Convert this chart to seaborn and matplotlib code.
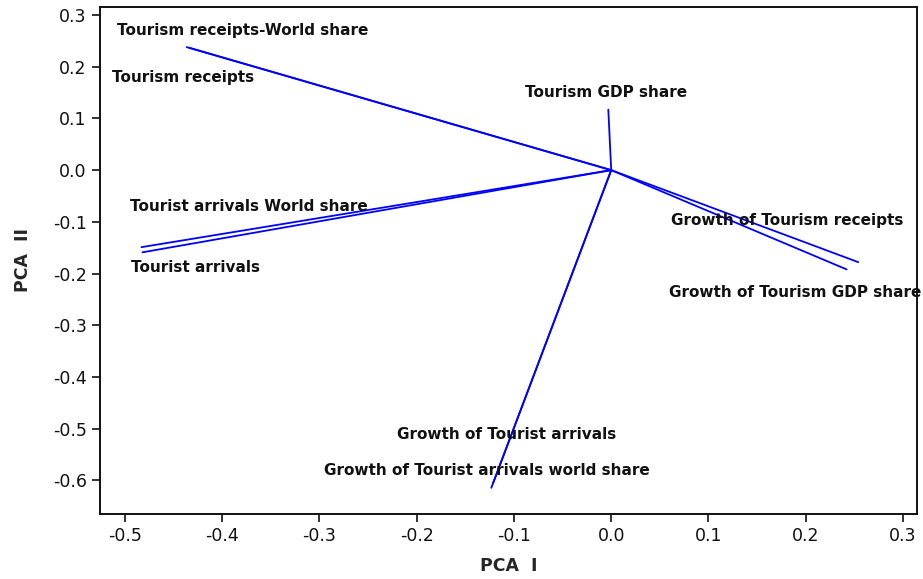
import matplotlib
matplotlib.use("Agg")
import matplotlib.pyplot as plt
import seaborn as sns
import pandas as pd

variables = [
    "Tourism receipts-World share", "Tourism receipts", "Tourism GDP share",
    "Growth of Tourism receipts", "Growth of Tourism GDP share",
    "Tourist arrivals World share", "Tourist arrivals",
    "Growth of Tourist arrivals", "Growth of Tourist arrivals world share",
]
pc1 = [-0.4365, -0.434, -0.003, 0.254, 0.242, -0.483, -0.482, -0.1215, -0.1233]
pc2 = [0.238, 0.2367, 0.117, -0.178, -0.192, -0.149, -0.159, -0.6057, -0.6145]

label_x = [-0.508, -0.513, -0.089, 0.061, 0.059, -0.495, -0.494, -0.220, -0.295]
label_y = [0.271, 0.180, 0.150, -0.098, -0.237, -0.070, -0.188, -0.511, -0.582]

rows = []
for v, x, y in zip(variables, pc1, pc2):
    rows.append({"var": v, "step": 0, "PCA I": 0.0, "PCA II": 0.0})
    rows.append({"var": v, "step": 1, "PCA I": x, "PCA II": y})
df = pd.DataFrame(rows)

sns.set_style("ticks")
plt.rcParams["font.family"] = ["DejaVu Sans"]

fig = plt.figure(figsize=(9.23, 5.79), dpi=100)
ax = fig.add_axes([0.1083, 0.1128, 0.8852, 0.8746])

sns.lineplot(data=df, x="PCA I", y="PCA II", units="var", estimator=None,
             sort=False, color="#0000ff", linewidth=1.3, ax=ax)

for t, x, y in zip(variables, label_x, label_y):
    ax.text(x, y, t, fontsize=11, fontweight="bold", color="#111111",
            ha="left", va="center", clip_on=False)

ax.set_xlim(-0.5257, 0.3144)
ax.set_ylim(-0.6646, 0.315)
ax.set_xticks([-0.5, -0.4, -0.3, -0.2, -0.1, 0.0, 0.1, 0.2, 0.3])
ax.set_xticklabels(["-0.5", "-0.4", "-0.3", "-0.2", "-0.1", "0.0", "0.1", "0.2", "0.3"])
ax.set_yticks([0.3, 0.2, 0.1, 0.0, -0.1, -0.2, -0.3, -0.4, -0.5, -0.6])
ax.set_yticklabels(["0.3", "0.2", "0.1", "0.0", "-0.1", "-0.2", "-0.3", "-0.4", "-0.5", "-0.6"])
ax.tick_params(axis="both", labelsize=12.5, length=6, width=1.2, color="#111111",
               labelcolor="#111111", direction="out")
for s in ax.spines.values():
    s.set_linewidth(1.4)
    s.set_color("#111111")

ax.set_xlabel("PCA  I", fontsize=12.5, fontweight="bold", labelpad=9)
ax.set_ylabel("PCA  II", fontsize=12.5, fontweight="bold", labelpad=15)

fig.savefig("out.png", dpi=100)
